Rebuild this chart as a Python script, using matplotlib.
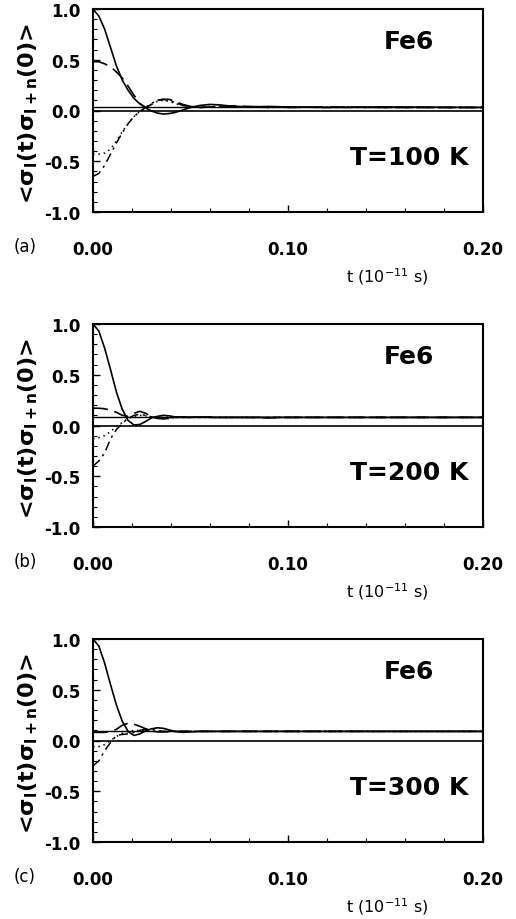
import matplotlib
matplotlib.use("Agg")
import matplotlib.pyplot as plt
from matplotlib.ticker import MultipleLocator

plt.rcParams['font.family'] = ['DejaVu Sans']
plt.rcParams['mathtext.fontset'] = 'dejavusans'
plt.rcParams['mathtext.default'] = 'bf'

# time grid (units of 1e-11 s)
t = [0, .003, .006, .009, .012, .015, .018, .021, .024, .027, .030, .033, .036, .039,
     .042, .046, .050, .055, .060, .065, .070, .080, .090, .100, .120, .150, .200]

# T = 100 K
solid_a = [1.0, .93, .80, .62, .44, .30, .20, .12, .065, .025, -.005, -.025, -.035, -.03,
           -.02, .005, .03, .05, .06, .055, .045, .035, .04, .035, .03, .035, .03]
dashed_a = [.48, .48, .46, .43, .38, .32, .24, .15, .07, .03, .06, .10, .11, .11,
            .09, .06, .04, .03, .035, .04, .045, .04, .035, .03, .035, .03, .03]
dashdot_a = [-.65, -.62, -.54, -.43, -.32, -.22, -.13, -.06, -.01, .03, .07, .10, .11, .10,
             .08, .05, .035, .03, .035, .04, .04, .035, .03, .035, .03, .03, .03]
dotted_a = [-.43, -.43, -.42, -.38, -.30, -.21, -.13, -.06, -.01, .03, .06, .09, .10, .09,
            .07, .05, .04, .035, .04, .04, .035, .035, .03, .03, .035, .03, .03]

# T = 200 K
solid_b = [1.0, .93, .76, .55, .33, .16, .05, .005, .01, .04, .075, .09, .10, .095,
           .085, .08, .08, .085, .08, .08, .08, .08, .08, .08, .08, .08, .08]
dashed_b = [.17, .17, .165, .15, .13, .10, .09, .12, .14, .12, .09, .07, .065, .07,
            .08, .085, .08, .08, .085, .08, .08, .08, .075, .08, .08, .08, .08]
dashdot_b = [-.40, -.35, -.27, -.13, -.04, .02, .07, .10, .11, .10, .085, .075, .07, .075,
             .08, .08, .085, .08, .08, .08, .08, .08, .08, .08, .08, .08, .08]
dotted_b = [-.13, -.12, -.10, -.06, -.01, .03, .07, .09, .10, .095, .085, .08, .08, .08,
            .08, .08, .08, .08, .08, .08, .08, .08, .08, .08, .08, .08, .08]

# T = 300 K
solid_c = [1.0, .93, .76, .55, .35, .19, .09, .05, .065, .095, .115, .125, .12, .105,
           .09, .08, .085, .09, .09, .09, .09, .09, .09, .09, .09, .09, .09]
dashed_c = [.08, .08, .08, .09, .11, .15, .17, .16, .14, .115, .095, .085, .085, .09,
            .09, .09, .09, .09, .09, .09, .09, .09, .09, .09, .09, .09, .09]
dashdot_c = [-.25, -.20, -.10, -.02, .05, .06, .065, .08, .10, .11, .11, .10, .09, .085,
             .09, .09, .09, .09, .09, .09, .09, .09, .09, .09, .09, .09, .09]
dotted_c = [-.06, -.06, -.04, .0, .04, .07, .09, .10, .10, .095, .09, .09, .09, .09,
            .09, .09, .09, .09, .09, .09, .09, .09, .09, .09, .09, .09, .09]

asymptote = [0.03, 0.08, 0.09]
temps = [100, 200, 300]
panel_labels = ['(a)', '(b)', '(c)']
xtick_vals = [0.0, 0.1, 0.2]
xtick_labels = ['0.00', '0.10', '0.20']
ytick_vals = [-1.0, -0.5, 0.0, 0.5, 1.0]
ytick_labels = ['-1.0', '-0.5', '0.0', '0.5', '1.0']

series = [(solid_a, dashed_a, dashdot_a, dotted_a),
          (solid_b, dashed_b, dashdot_b, dotted_b),
          (solid_c, dashed_c, dashdot_c, dotted_c)]

W, H = 516, 920
fig = plt.figure(figsize=(W / 100, H / 100), dpi=100)

tops = [10, 325, 640]
ax_h = 203
for i in range(3):
    top = tops[i]
    ax = fig.add_axes([93 / W, 1 - (top + ax_h) / H, 390 / W, ax_h / H])
    s, d, dd, dt = series[i]
    ax.axhline(0, color='k', lw=1.2)
    ax.axhline(asymptote[i], color='k', lw=1.0)
    ax.plot(t, s, color='k', lw=1.2)
    ax.plot(t, d, color='k', lw=1.2, ls=(0, (9, 4)))
    ax.plot(t, dd, color='k', lw=1.1, ls=(0, (6, 3, 1.5, 3)))
    ax.plot(t, dt, color='k', lw=1.1, ls=(0, (1, 2.5)))

    ax.set_xlim(0, 0.2)
    ax.set_ylim(-1, 1)
    ax.set_xticks(xtick_vals)
    ax.set_xticklabels(xtick_labels, fontweight='bold', fontsize=12)
    ax.xaxis.set_minor_locator(MultipleLocator(0.02))
    ax.set_yticks(ytick_vals)
    ax.set_yticklabels(ytick_labels, fontweight='bold', fontsize=12)
    ax.yaxis.set_minor_locator(MultipleLocator(0.1))
    ax.tick_params(axis='x', which='both', direction='in', pad=20)
    ax.tick_params(axis='y', which='both', direction='in', pad=9)
    ax.tick_params(which='major', length=5, width=1.0)
    ax.tick_params(which='minor', length=3, width=0.8)
    for sp in ax.spines.values():
        sp.set_linewidth(1.5)

    ax.text(0.81, 0.84, 'Fe6', transform=ax.transAxes, ha='center', va='center',
            fontsize=18, fontweight='bold')
    ax.text(0.81, 0.27, f'T={temps[i]} K', transform=ax.transAxes, ha='center',
            va='center', fontsize=18, fontweight='bold')

    fig.text(28 / W, 1 - (top + 104) / H, r'<σ$_{l}$(t)σ$_{l+n}$(0)>', rotation=90,
             ha='center', va='center', fontsize=16, fontweight='bold')
    fig.text(25 / W, 1 - (top + 237) / H, panel_labels[i], ha='center', va='center',
             fontsize=12)
    fig.text(387 / W, 1 - (top + 267) / H, r't (10$^{\mathregular{-11}}$ s)',
             ha='center', va='center', fontsize=11.5)

fig.savefig('out.png', dpi=100)
